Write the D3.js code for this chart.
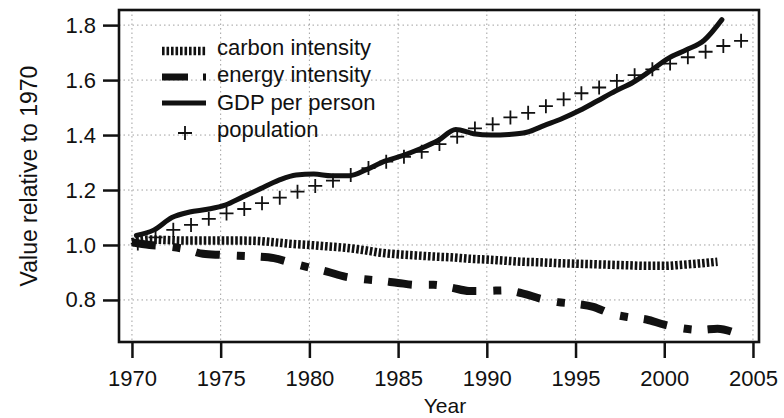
<!DOCTYPE html>
<html><head><meta charset="utf-8">
<script src="https://cdn.jsdelivr.net/npm/d3@7/dist/d3.min.js"></script>
<style>html,body{margin:0;padding:0;background:#fff}svg{display:block}text{font-family:"Liberation Sans",Arial,sans-serif;fill:#111}</style>
</head><body>
<svg id="c" width="784" height="418"></svg>
<script>
// ---- data ----
const xTicks = [1970, 1975, 1980, 1985, 1990, 1995, 2000, 2005];
const yTicks = [0.8, 1.0, 1.2, 1.4, 1.6, 1.8];
const seriesNames = ["carbon intensity", "energy intensity", "GDP per person", "population"];

const carbonYears = d3.range(1970, 2004);
const carbonValues = [1.01,1.02,1.018,1.016,1.016,1.016,1.016,1.015,1.01,1.004,1.0,0.995,0.99,0.982,0.972,0.966,0.962,0.958,0.955,0.95,0.947,0.943,0.939,0.937,0.934,0.932,0.93,0.928,0.926,0.924,0.924,0.928,0.933,0.939];

const energyYears = d3.range(1970, 2005);
const energyValues = [1.01,1.0,0.995,0.985,0.968,0.964,0.961,0.958,0.952,0.935,0.918,0.903,0.885,0.876,0.87,0.862,0.855,0.855,0.845,0.833,0.833,0.835,0.824,0.805,0.792,0.786,0.775,0.75,0.737,0.729,0.71,0.697,0.691,0.695,0.68];

const gdpYears = d3.range(1970, 2004);
const gdpValues = [1.035,1.055,1.1,1.12,1.13,1.145,1.175,1.205,1.235,1.255,1.258,1.252,1.252,1.275,1.305,1.325,1.35,1.38,1.42,1.405,1.4,1.402,1.41,1.435,1.46,1.49,1.525,1.56,1.592,1.635,1.68,1.71,1.745,1.82];

const popYears = d3.range(1970, 2005);
const popValues = [1.005,1.028,1.055,1.073,1.095,1.115,1.131,1.152,1.172,1.194,1.215,1.234,1.255,1.28,1.303,1.321,1.339,1.367,1.394,1.424,1.439,1.464,1.481,1.505,1.53,1.552,1.573,1.597,1.618,1.639,1.66,1.683,1.703,1.724,1.743];

// ---- layout ----
const svg = d3.select("#c");
const L = 119, R = 759, T = 10, B = 342;
const x = d3.scaleLinear().domain([1969.27, 2005.34]).range([L, R]);
const y = d3.scaleLinear().domain([0.647, 1.855]).range([B, T]);
const gdpShift = 0.25, popShift = 0.33;

// grid
const grid = svg.append("g").attr("stroke", "#a0a0a0").attr("stroke-width", 1).attr("stroke-dasharray", "1.5 3");
grid.selectAll("line.h").data(yTicks).join("line").attr("class","h")
  .attr("x1", L).attr("x2", R).attr("y1", d => y(d)).attr("y2", d => y(d));
grid.selectAll("line.v").data(xTicks).join("line").attr("class","v")
  .attr("y1", T).attr("y2", B).attr("x1", d => x(d)).attr("x2", d => x(d));

// axes
const xAxis = d3.axisBottom(x).tickValues(xTicks).tickFormat(d3.format("d")).tickSize(16).tickPadding(12);
const yAxis = d3.axisLeft(y).tickValues(yTicks).tickFormat(d3.format(".1f")).tickSize(16).tickPadding(7);
const gx = svg.append("g").attr("transform", `translate(0,${B})`).call(xAxis);
const gy = svg.append("g").attr("transform", `translate(${L},0)`).call(yAxis);
[gx, gy].forEach(g => {
  g.select(".domain").remove();
  g.selectAll(".tick line").attr("stroke", "#111").attr("stroke-width", 2.5);
  g.selectAll(".tick text").attr("font-size", 22).attr("fill", "#111").attr("font-family", '"Liberation Sans",Arial,sans-serif');
});

// lines
const line = d3.line().curve(d3.curveMonotoneX);
const carbonPts = carbonYears.map((yr, i) => [x(yr), y(carbonValues[i])]);
const energyPts = energyYears.map((yr, i) => [x(yr), y(energyValues[i])]);
const gdpPts = gdpYears.map((yr, i) => [x(yr + gdpShift), y(gdpValues[i])]);

const carbonStyle = {w: 8.5, dash: "2.6 1.9"};
const energyStyle = {w: 8, dash: "24 17 8 16"};
svg.append("path").attr("d", line(carbonPts)).attr("fill","none").attr("stroke","#111")
  .attr("stroke-width", carbonStyle.w).attr("stroke-dasharray", carbonStyle.dash);
svg.append("path").attr("d", line(energyPts)).attr("fill","none").attr("stroke","#111")
  .attr("stroke-width", energyStyle.w).attr("stroke-dasharray", energyStyle.dash);
svg.append("path").attr("d", line(gdpPts)).attr("fill","none").attr("stroke","#111")
  .attr("stroke-width", 5).attr("stroke-linecap","round").attr("stroke-linejoin","round");

const plus = "M-7,0H7M0,-7V7";
svg.append("g").selectAll("path").data(popYears).join("path")
  .attr("transform", (yr, i) => `translate(${x(yr + popShift)},${y(popValues[i])})`)
  .attr("d", plus).attr("stroke", "#111").attr("stroke-width", 1.8).attr("fill", "none");

// frame
svg.append("rect").attr("x", L).attr("y", T).attr("width", R - L).attr("height", B - T)
  .attr("fill", "none").attr("stroke", "#111").attr("stroke-width", 2.6);

// axis titles
svg.append("text").attr("x", (L + R) / 2 + 6).attr("y", 413).attr("text-anchor", "middle")
  .attr("font-size", 21).text("Year");
svg.append("text").attr("transform", `translate(37,${(T + B) / 2}) rotate(-90)`)
  .attr("text-anchor", "middle").attr("font-size", 23).text("Value relative to 1970");

// legend
const lg = svg.append("g");
const rowY = [55, 82, 110, 137];
const sx0 = 162, sx1 = 206, tx = 217;
lg.append("line").attr("x1", sx0).attr("x2", sx1).attr("y1", 51).attr("y2", 51)
  .attr("stroke","#111").attr("stroke-width", carbonStyle.w).attr("stroke-dasharray", carbonStyle.dash);
lg.append("line").attr("x1", sx0).attr("x2", sx1).attr("y1", 77).attr("y2", 77)
  .attr("stroke","#111").attr("stroke-width", 7).attr("stroke-dasharray", "26 15 3 20");
lg.append("line").attr("x1", sx0).attr("x2", sx1).attr("y1", 103).attr("y2", 103)
  .attr("stroke","#111").attr("stroke-width", 5);
lg.append("path").attr("transform", "translate(185,133)").attr("d", plus)
  .attr("stroke","#111").attr("stroke-width", 1.8);
lg.selectAll("text").data(seriesNames).join("text")
  .attr("x", tx).attr("y", (d, i) => rowY[i]).attr("font-size", 22).text(d => d);
</script>
</body></html>
